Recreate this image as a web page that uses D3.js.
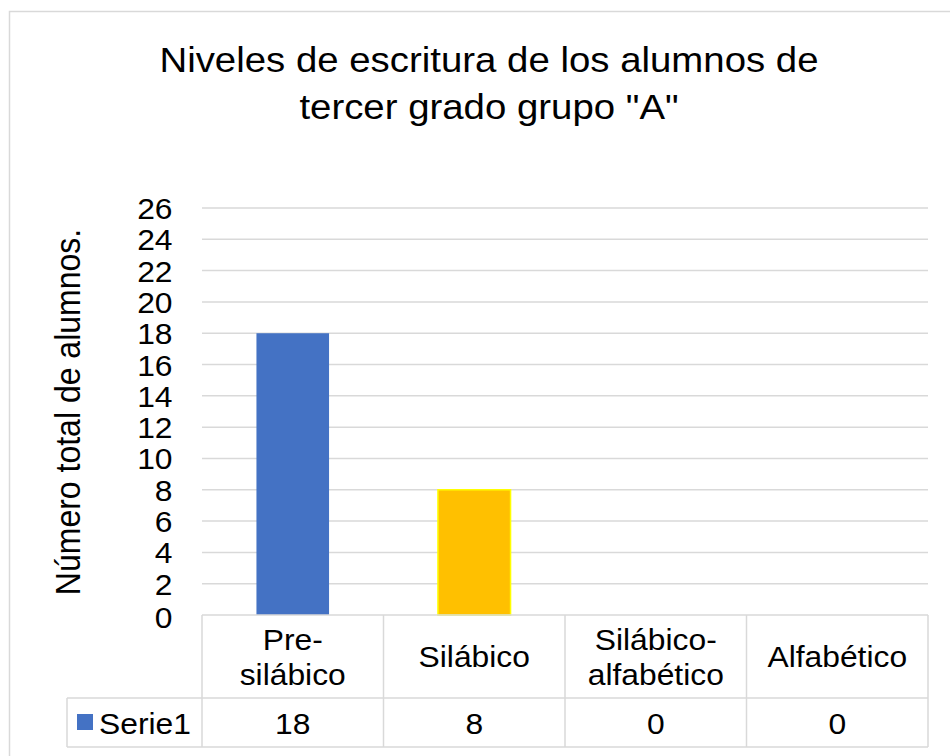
<!DOCTYPE html>
<html>
<head>
<meta charset="utf-8">
<script src="https://cdn.jsdelivr.net/npm/d3@7"></script>
<style>
  html, body { margin: 0; padding: 0; background: #fff; }
  svg { display: block; }
  text { font-family: "Liberation Sans", Arial, sans-serif; fill: #000; }
</style>
</head>
<body>
<div id="chart"></div>
<script>
// ---- Data ----
const categories = [["Pre-", "silábico"], ["Silábico"], ["Silábico-", "alfabético"], ["Alfabético"]];
const categoryKeys = ["Pre-silábico", "Silábico", "Silábico-alfabético", "Alfabético"];
const values = [18, 8, 0, 0];
const seriesName = "Serie1";
const yTicks = [0, 2, 4, 6, 8, 10, 12, 14, 16, 18, 20, 22, 24, 26];
const titleLines = ["Niveles de escritura de los alumnos de", "tercer grado grupo \"A\""];
const yAxisTitle = "Número total de alumnos.";
const barFills = ["#4472C4", "#FFC000", "#4472C4", "#4472C4"];
const barStrokes = ["none", "#FFFF00", "none", "none"];

// ---- Layout ----
const W = 950, H = 756;
const SX = 1.097; // horizontal stretch of text in reference
const plotL = 202, plotR = 928, plotT = 208, plotB = 615;
const headerB = 698, tableB = 747, legendL = 67;
const grid = "#d9d9d9";

const svg = d3.select("#chart").append("svg").attr("width", W).attr("height", H);

// outer chart border
svg.append("rect").attr("x", 9.5).attr("y", 11.5).attr("width", W + 20).attr("height", H + 20)
  .attr("fill", "#fff").attr("stroke", grid).attr("stroke-width", 1.5);

const x = d3.scaleBand().domain(categoryKeys).range([plotL, plotR]).paddingInner(0.6).paddingOuter(0.3);
const y = d3.scaleLinear().domain([0, 26]).range([plotB, plotT]);

// title
const title = svg.append("g");
titleLines.forEach((t, i) => {
  title.append("text").attr("transform", `translate(489,${72 + i * 46.5}) scale(${SX},1)`)
    .attr("text-anchor", "middle").attr("font-size", 35).text(t);
});

// gridlines (skip 0 which is table top)
svg.append("g").selectAll("line").data(yTicks.filter(d => d > 0)).join("line")
  .attr("x1", plotL).attr("x2", plotR).attr("y1", d => y(d)).attr("y2", d => y(d))
  .attr("stroke", grid).attr("stroke-width", 1.5);

// y axis via d3.axisLeft (labels only)
const yAxis = svg.append("g").attr("transform", `translate(${plotL},0)`)
  .call(d3.axisLeft(y).tickValues(yTicks).tickSize(0).tickPadding(0));
yAxis.select(".domain").remove();
yAxis.selectAll(".tick text")
  .attr("x", null).attr("dy", null)
  .attr("font-family", "Liberation Sans, Arial, sans-serif")
  .attr("font-size", 29).attr("fill", "#000")
  .attr("text-anchor", "end")
  .attr("transform", d => `translate(${172.5 - plotL},${d === 0 ? 12.5 : 10.5}) scale(${SX},1)`);

// y axis title
svg.append("text").attr("transform", `translate(80,412) scale(${SX},1) rotate(-90)`)
  .attr("text-anchor", "middle").attr("font-size", 32).text(yAxisTitle);

// bars
svg.append("g").selectAll("rect").data(values).join("rect")
  .attr("x", (d, i) => x(categoryKeys[i]))
  .attr("width", x.bandwidth())
  .attr("y", d => y(d))
  .attr("height", d => y(0) - y(d))
  .attr("fill", (d, i) => barFills[i])
  .attr("stroke", (d, i) => barStrokes[i])
  .attr("stroke-width", 1.5)
  .attr("display", d => d > 0 ? null : "none");

// data table
const tbl = svg.append("g").attr("stroke", grid).attr("stroke-width", 1.5);
tbl.append("line").attr("x1", plotL).attr("x2", plotR).attr("y1", plotB).attr("y2", plotB);
tbl.append("line").attr("x1", legendL).attr("x2", plotR).attr("y1", headerB).attr("y2", headerB);
tbl.append("line").attr("x1", legendL).attr("x2", plotR).attr("y1", tableB).attr("y2", tableB);
tbl.append("line").attr("x1", legendL).attr("x2", legendL).attr("y1", headerB).attr("y2", tableB);
const step = x.step();
const colEdges = d3.range(categoryKeys.length + 1).map(i => plotL + i * step);
tbl.selectAll("line.v").data(colEdges).join("line").attr("class", "v")
  .attr("x1", d => d).attr("x2", d => d).attr("y1", plotB).attr("y2", tableB);

// category labels
const colCenter = k => x(k) + x.bandwidth() / 2;
const headerMid = (plotB + headerB) / 2;
categories.forEach((lines, i) => {
  const n = lines.length;
  lines.forEach((ln, j) => {
    const by = headerMid + 10.5 + (j - (n - 1) / 2) * 35;
    svg.append("text").attr("transform", `translate(${colCenter(categoryKeys[i])},${by}) scale(${SX},1)`)
      .attr("text-anchor", "middle").attr("font-size", 29).text(ln);
  });
});

// data row values
values.forEach((v, i) => {
  svg.append("text").attr("transform", `translate(${colCenter(categoryKeys[i])},734) scale(${SX},1)`)
    .attr("text-anchor", "middle").attr("font-size", 29).text(v);
});

// legend key
svg.append("rect").attr("x", 77).attr("y", 714).attr("width", 16).attr("height", 16).attr("fill", barFills[0]);
svg.append("text").attr("transform", `translate(99,734) scale(${SX},1)`)
  .attr("font-size", 29).text(seriesName);
</script>
</body>
</html>
